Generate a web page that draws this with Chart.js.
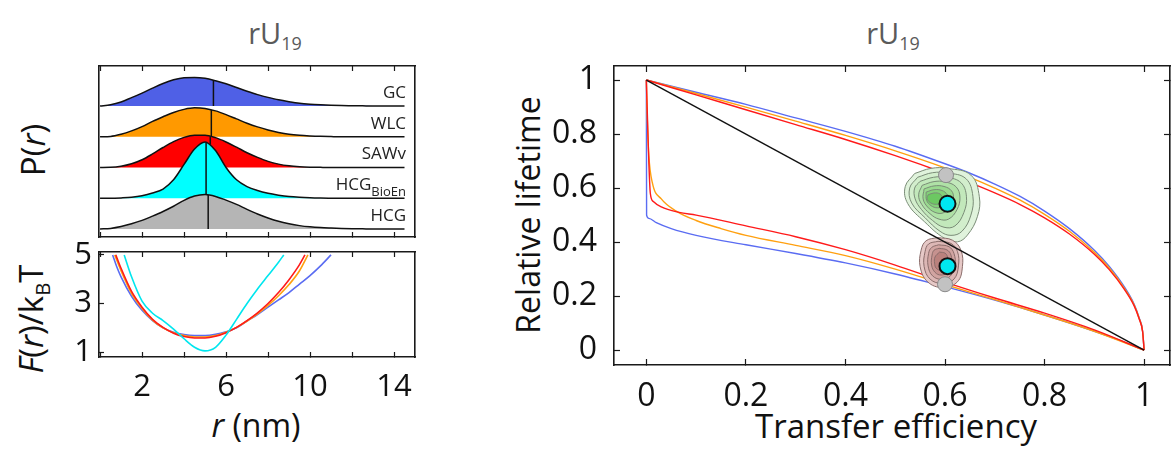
<!DOCTYPE html>
<html>
<head>
<meta charset="utf-8">
<script src="https://cdn.jsdelivr.net/npm/chart.js@4.4.0/dist/chart.umd.min.js"></script>
<style>
  body { margin:0; width:1171px; height:451px; background:#fff; position:relative; overflow:hidden; font-family:'Open Sans', sans-serif; color:#111; }
  canvas { position:absolute; }
  .t { position:absolute; white-space:nowrap; line-height:1; }
  .rot { transform: translate(-50%,-50%) rotate(-90deg); }
  .ctr { transform: translate(-50%,-50%); }
  .title { color:#5a5a5a; font-size:29px; }
  sub { font-size:0.62em; vertical-align:-0.35em; }
</style>
</head>
<body>
<div class="t title ctr" style="left:275px;top:35px">rU<sub>19</sub></div>
<div class="t title ctr" style="left:893px;top:35px">rU<sub>19</sub></div>
<div class="t rot" style="left:32px;top:150px;font-size:33px">P(<i>r</i>)</div>
<div class="t rot" style="left:33px;top:319px;font-size:33px"><i>F</i>(<i>r</i>)/k<sub>B</sub>T</div>
<div class="t ctr" style="left:256px;top:425px;font-size:32px"><i>r</i> (nm)</div>
<div class="t rot" style="left:528px;top:215px;font-size:32px">Relative lifetime</div>
<div class="t ctr" style="left:896px;top:425px;font-size:33px">Transfer efficiency</div>

<canvas id="pr" width="337" height="192" style="left:89px;top:56px"></canvas>
<canvas id="fr" width="406" height="200" style="left:20px;top:240px"></canvas>
<canvas id="tau" width="641" height="370" style="left:530px;top:55px"></canvas>

<script>
// models, bottom row first
const modelNames = ['HCG', 'HCG', 'SAWv', 'WLC', 'GC'];
const modelSubs = ['', 'BioEn', '', '', ''];
const fillColors = ['#b5b5b5', '#00ffff', '#ff0000', '#ff9900', '#4f60e6'];
const lineColors = ['#999999', '#00e6ee', '#ff1a1a', '#ffa010', '#5a6cf2'];

// P(r), r in nm
const rGrid = [0,0.5,1,1.5,2,2.5,3,3.5,4,4.5,5,5.5,6,6.5,7,7.5,8,8.5,9,9.5,10,10.5,11,11.5,12,12.5,13,13.5,14,14.5];
const pHCG = [0,0.02,0.08,0.17,0.28,0.42,0.57,0.74,0.93,1.07,1.12,1.06,0.94,0.8,0.64,0.49,0.36,0.25,0.17,0.11,0.07,0.045,0.03,0.018,0.01,0.005,0,0,0,0];
const pBioEn = [0,0,0.01,0.03,0.08,0.17,0.3,0.6,1.1,1.6,1.83,1.55,1.0,0.6,0.38,0.25,0.16,0.1,0.055,0.03,0.015,0.007,0.003,0,0,0,0,0,0,0];
const pSAWv = [0,0.005,0.04,0.12,0.25,0.44,0.65,0.84,0.98,1.05,1.05,0.97,0.83,0.66,0.48,0.33,0.2,0.11,0.055,0.025,0.01,0.004,0,0,0,0,0,0,0,0];
const pWLC = [0,0.01,0.08,0.19,0.33,0.5,0.65,0.79,0.89,0.94,0.92,0.84,0.72,0.58,0.44,0.32,0.22,0.14,0.08,0.045,0.025,0.012,0.005,0,0,0,0,0,0,0];
const pGC = [0,0.04,0.13,0.27,0.42,0.58,0.73,0.85,0.92,0.93,0.9,0.82,0.72,0.6,0.48,0.37,0.28,0.2,0.14,0.09,0.06,0.04,0.025,0.015,0.01,0.005,0,0,0,0];
const meanR = [5.15, 5.05, 5.25, 5.3, 5.4];

// F(r)/kBT, [r, F]
const fHCGBioEn = [[1.15,5.0],[1.5,4.1],[2,3.1],[2.5,2.6],[3,2.3],[3.5,1.95],[4,1.55],[4.5,1.2],[5,1.05],[5.5,1.2],[6,1.7],[6.5,2.35],[7,3.0],[7.5,3.6],[8,4.15],[8.5,4.7],[8.75,5.0]];
const fSAWv = [[0.75,5.0],[1,4.45],[1.5,3.5],[2,2.85],[2.5,2.35],[3,2.02],[3.5,1.78],[4,1.64],[4.5,1.58],[5,1.58],[5.5,1.65],[6,1.8],[6.5,2.02],[7,2.3],[7.5,2.62],[8,3.0],[8.5,3.45],[9,3.98],[9.5,4.6],[9.76,5.0]];
const fWLC = [[0.7,5.0],[1,4.35],[1.5,3.42],[2,2.8],[2.5,2.32],[3,2.0],[3.5,1.8],[4,1.68],[4.5,1.62],[5,1.62],[5.5,1.68],[6,1.82],[6.5,2.02],[7,2.28],[7.5,2.58],[8,2.92],[8.5,3.32],[9,3.78],[9.5,4.35],[9.9,5.0]];
const fGC = [[0.6,5.0],[0.8,4.5],[1,4.1],[1.5,3.3],[2,2.72],[2.5,2.3],[3,2.0],[3.5,1.82],[4,1.72],[4.5,1.68],[5,1.68],[5.5,1.73],[6,1.84],[6.5,2.0],[7,2.28],[7.5,2.55],[8,2.85],[8.5,3.15],[9,3.45],[9.5,3.8],[10,4.15],[10.5,4.55],[11,5.0]];

// relative lifetime vs transfer efficiency
const upE = [0,0.1,0.2,0.3,0.4,0.5,0.6,0.65,0.7,0.75,0.8,0.85,0.9,0.93,0.96,0.98,0.99,0.997,1.0];
const upGC = [1.0,0.955,0.91,0.86,0.81,0.755,0.69,0.655,0.615,0.57,0.515,0.45,0.37,0.31,0.235,0.17,0.12,0.07,0.0];
const upWLC = [1.0,0.95,0.9,0.848,0.795,0.738,0.675,0.64,0.6,0.556,0.503,0.44,0.362,0.304,0.23,0.167,0.118,0.069,0.0];
const upSAWv = [1.0,0.945,0.89,0.835,0.78,0.72,0.655,0.62,0.582,0.54,0.49,0.43,0.355,0.298,0.226,0.164,0.116,0.068,0.0];
const lowE_GC = [0,0.0005,0.005,0.02,0.05,0.1,0.2,0.3,0.4,0.5,0.6,0.7,0.8,0.9,0.95,1.0];
const lowGC = [1.0,0.5,0.488,0.472,0.45,0.425,0.39,0.358,0.323,0.282,0.235,0.185,0.13,0.07,0.037,0.0];
const lowE_WLC = [0,0.002,0.005,0.012,0.03,0.06,0.1,0.15,0.2,0.3,0.4,0.5,0.6,0.7,0.8,0.9,1.0];
const lowWLC = [1.0,0.85,0.72,0.62,0.56,0.515,0.48,0.45,0.425,0.388,0.35,0.3,0.243,0.187,0.13,0.07,0.0];
const lowE_SAWv = [0,0.004,0.008,0.014,0.03,0.066,0.1,0.2,0.3,0.4,0.5,0.6,0.7,0.8,0.9,1.0];
const lowSAWv = [1.0,0.75,0.58,0.55,0.53,0.51,0.5,0.46,0.42,0.372,0.315,0.252,0.193,0.137,0.075,0.0];
const staticE = [0, 1];
const staticTau = [1, 0];

// measured 2D histograms, contour levels (outer first), [E, tau]
const greenLevels = [
  [[0.539,0.654],[0.572,0.673],[0.605,0.673],[0.652,0.648],[0.669,0.568],[0.665,0.494],[0.645,0.426],[0.625,0.401],[0.599,0.414],[0.559,0.475],[0.525,0.543],[0.52,0.605]],
  [[0.545,0.64],[0.575,0.657],[0.605,0.656],[0.642,0.635],[0.656,0.57],[0.652,0.5],[0.634,0.44],[0.612,0.425],[0.59,0.44],[0.56,0.49],[0.533,0.545],[0.529,0.6]],
  [[0.55,0.625],[0.577,0.64],[0.604,0.64],[0.632,0.62],[0.643,0.57],[0.638,0.51],[0.62,0.46],[0.598,0.455],[0.575,0.48],[0.553,0.52],[0.54,0.56],[0.539,0.6]],
  [[0.554,0.61],[0.578,0.624],[0.6,0.623],[0.622,0.605],[0.63,0.567],[0.624,0.52],[0.607,0.485],[0.588,0.485],[0.57,0.505],[0.553,0.54],[0.547,0.575]],
  [[0.558,0.597],[0.578,0.608],[0.598,0.606],[0.613,0.59],[0.617,0.563],[0.611,0.53],[0.596,0.508],[0.58,0.51],[0.565,0.53],[0.556,0.56]],
  [[0.562,0.585],[0.578,0.594],[0.594,0.591],[0.604,0.576],[0.605,0.555],[0.598,0.535],[0.585,0.527],[0.572,0.535],[0.563,0.555]],
  [[0.566,0.575],[0.578,0.582],[0.59,0.578],[0.595,0.562],[0.591,0.545],[0.58,0.54],[0.569,0.548],[0.564,0.562]]
];
const redLevels = [
  [[0.585,0.417],[0.615,0.407],[0.632,0.37],[0.635,0.309],[0.625,0.253],[0.595,0.232],[0.565,0.253],[0.55,0.309],[0.552,0.37],[0.562,0.405]],
  [[0.586,0.403],[0.612,0.395],[0.625,0.365],[0.627,0.312],[0.618,0.263],[0.595,0.247],[0.57,0.263],[0.558,0.31],[0.56,0.365],[0.567,0.393]],
  [[0.587,0.39],[0.608,0.383],[0.618,0.358],[0.62,0.315],[0.611,0.275],[0.594,0.262],[0.575,0.275],[0.566,0.312],[0.567,0.358],[0.573,0.38]],
  [[0.588,0.377],[0.604,0.371],[0.612,0.352],[0.613,0.318],[0.605,0.288],[0.592,0.278],[0.58,0.288],[0.573,0.315],[0.574,0.352],[0.578,0.37]],
  [[0.589,0.363],[0.6,0.359],[0.605,0.345],[0.605,0.322],[0.599,0.302],[0.59,0.296],[0.582,0.304],[0.579,0.322],[0.58,0.345]]
];
const measE = [0.605, 0.605];
const measTau = [0.542, 0.311];
const refE = [0.602, 0.6];
const refTau = [0.648, 0.244];

Chart.defaults.font.family = "'Open Sans', sans-serif";
Chart.defaults.color = '#111';
Chart.defaults.animation = false;
Chart.defaults.layout.autoPadding = false;
Chart.defaults.plugins.legend.display = false;
Chart.defaults.plugins.tooltip.enabled = false;

const frame = '#1a1a1a';

// axis with inward ticks, fixed size, no auto padding
function axis(position, min, max, step, o) {
  o = o || {};
  return {
    type: 'linear', position, min, max,
    border: { display: true, color: frame, width: 1.6 },
    grid: { display: step != null, drawOnChartArea: false, tickLength: -(o.tick || 6), tickColor: frame, tickWidth: 1.2 },
    ticks: { display: !!o.labels, stepSize: step, includeBounds: false, padding: o.pad || 0, font: { size: o.font || 32 }, color: '#111',
      callback: o.cb || (v => Math.round(v * 10) / 10) },
    afterFit: s => {
      if (s.isHorizontal()) s.height = o.size || 0; else s.width = o.size || 0;
      s.paddingTop = s.paddingBottom = s.paddingLeft = s.paddingRight = 0;
    }
  };
}

const pts = (xs, ys) => xs.map((x, i) => ({ x, y: ys[i] }));
const pairs = arr => arr.map(p => ({ x: p[0], y: p[1] }));
const loop = arr => pairs(arr.concat([arr[0]]));

function interp(xs, ys, x) {
  for (let i = 1; i < xs.length; i++) {
    if (x <= xs[i]) return ys[i-1] + (ys[i] - ys[i-1]) * (x - xs[i-1]) / (xs[i] - xs[i-1]);
  }
  return ys[ys.length - 1];
}

//--- P(r) stack
const pRows = [pHCG, pBioEn, pSAWv, pWLC, pGC];
const prSets = [];
pRows.forEach((vals, i) => {
  prSets.push({
    data: rGrid.map((r, k) => ({ x: r, y: i + vals[k] })),
    borderColor: '#111', borderWidth: 1.5, backgroundColor: fillColors[i],
    fill: { value: i }, pointRadius: 0, cubicInterpolationMode: 'monotone', tension: 0.4,
    order: 2 * i + 1
  });
  prSets.push({
    data: [{ x: meanR[i], y: i }, { x: meanR[i], y: i + interp(rGrid, vals, meanR[i]) }],
    borderColor: '#111', borderWidth: 1.5, pointRadius: 0, fill: false,
    order: 2 * i
  });
});

const rowLabels = {
  id: 'rowLabels',
  afterDatasetsDraw(chart) {
    const { ctx, chartArea, scales } = chart;
    ctx.save();
    ctx.fillStyle = '#222';
    ctx.textAlign = 'right';
    ctx.textBaseline = 'alphabetic';
    modelNames.forEach((name, i) => {
      const y = scales.y.getPixelForValue(i) - 8;
      let x = chartArea.right - 9;
      if (modelSubs[i]) {
        ctx.font = "13px 'Open Sans'";
        ctx.fillText(modelSubs[i], x, y + 6);
        x -= ctx.measureText(modelSubs[i]).width;
      }
      ctx.font = "17px 'Open Sans'";
      ctx.fillText(name, x, y);
    });
    ctx.restore();
  }
};

new Chart(document.getElementById('pr'), {
  type: 'line',
  data: { datasets: prSets },
  options: {
    responsive: false,
    layout: { padding: { left: 10, top: 10, right: 11, bottom: 11 } },
    scales: {
      x: axis('bottom', -0.05, 15, 2, { tick: 5 }),
      x2: axis('top', -0.05, 15, 2, { tick: 5 }),
      y: axis('left', -0.26, 5.3, null),
      y2: axis('right', -0.26, 5.3, null)
    }
  },
  plugins: [rowLabels]
});

//--- free energy
const fRows = [fGC, fWLC, fSAWv, fHCGBioEn];
const fCols = [lineColors[4], lineColors[3], lineColors[2], lineColors[1]];
new Chart(document.getElementById('fr'), {
  type: 'line',
  data: {
    datasets: fRows.map((f, i) => ({
      data: pairs(f), borderColor: fCols[i], borderWidth: 1.6, pointRadius: 0, fill: false,
      cubicInterpolationMode: 'monotone', tension: 0.4, order: 10 - i
    }))
  },
  options: {
    responsive: false,
    layout: { padding: { left: 0, top: 12, right: 11, bottom: 23 } },
    scales: {
      x: axis('bottom', -0.05, 15, 2, { tick: 5, labels: true, font: 31, pad: 17, size: 60, cb: v => (v % 4 === 2 ? v : '') }),
      x2: axis('top', -0.05, 15, 2, { tick: 5 }),
      y: axis('left', 0.8, 5.12, 1, { tick: 5, labels: true, font: 31, pad: 12, size: 79, cb: v => (v % 2 === 1 ? v : '') }),
      y2: axis('right', 0.8, 5.12, null)
    }
  }
});

//--- lifetime vs efficiency
const tauSets = [];
const line = (data, color, order, w) => ({
  data, borderColor: color, borderWidth: w || 1.4, pointRadius: 0, fill: false,
  cubicInterpolationMode: 'monotone', tension: 0.4, order
});
tauSets.push(line(pts(upE, upGC), lineColors[4], 29));
tauSets.push(line(pts(lowE_GC, lowGC), lineColors[4], 28));
tauSets.push(line(pts(upE, upWLC), lineColors[3], 27));
tauSets.push(line(pts(lowE_WLC, lowWLC), lineColors[3], 26));
tauSets.push(line(pts(upE, upSAWv), lineColors[2], 25));
tauSets.push(line(pts(lowE_SAWv, lowSAWv), lineColors[2], 24));

const greenFills = ['#e0f3dc', '#d2eecc', '#c2e8bb', '#afe1a6', '#99d98f', '#82d078', '#6cc862'];
const redFills = ['#e6c9c7', '#dcb7b5', '#d1a4a1', '#c6928f', '#ba817d'];
greenLevels.forEach((c, i) => {
  tauSets.push({ data: loop(c), borderColor: '#7a8c77', borderWidth: 1, backgroundColor: greenFills[i],
    fill: 'shape', pointRadius: 0, tension: 0.4, order: 22 - i });
});
redLevels.forEach((c, i) => {
  tauSets.push({ data: loop(c), borderColor: '#8a6c6a', borderWidth: 1, backgroundColor: redFills[i],
    fill: 'shape', pointRadius: 0, tension: 0.4, order: 14 - i });
});
tauSets.push(line(pts(staticE, staticTau), '#111', 5, 1.4));
tauSets.push({ data: pts(refE, refTau), showLine: false, pointRadius: 7.5, pointBackgroundColor: '#c2c2c2',
  pointBorderColor: '#8a8a8a', pointBorderWidth: 1, order: 2 });
tauSets.push({ data: pts(measE, measTau), showLine: false, pointRadius: 8, pointBackgroundColor: '#00e8f0',
  pointBorderColor: '#111', pointBorderWidth: 2, order: 1 });

new Chart(document.getElementById('tau'), {
  type: 'line',
  data: { datasets: tauSets },
  options: {
    responsive: false,
    layout: { padding: { left: 0, top: 11, right: 1, bottom: 10 } },
    scales: {
      x: axis('bottom', -0.065, 1.052, 0.2, { labels: true, pad: 19, size: 50 }),
      x2: axis('top', -0.065, 1.052, 0.2),
      y: axis('left', -0.055, 1.052, 0.2, { labels: true, pad: 23, size: 84 }),
      y2: axis('right', -0.055, 1.052, 0.2)
    }
  }
});
</script>
</body>
</html>
